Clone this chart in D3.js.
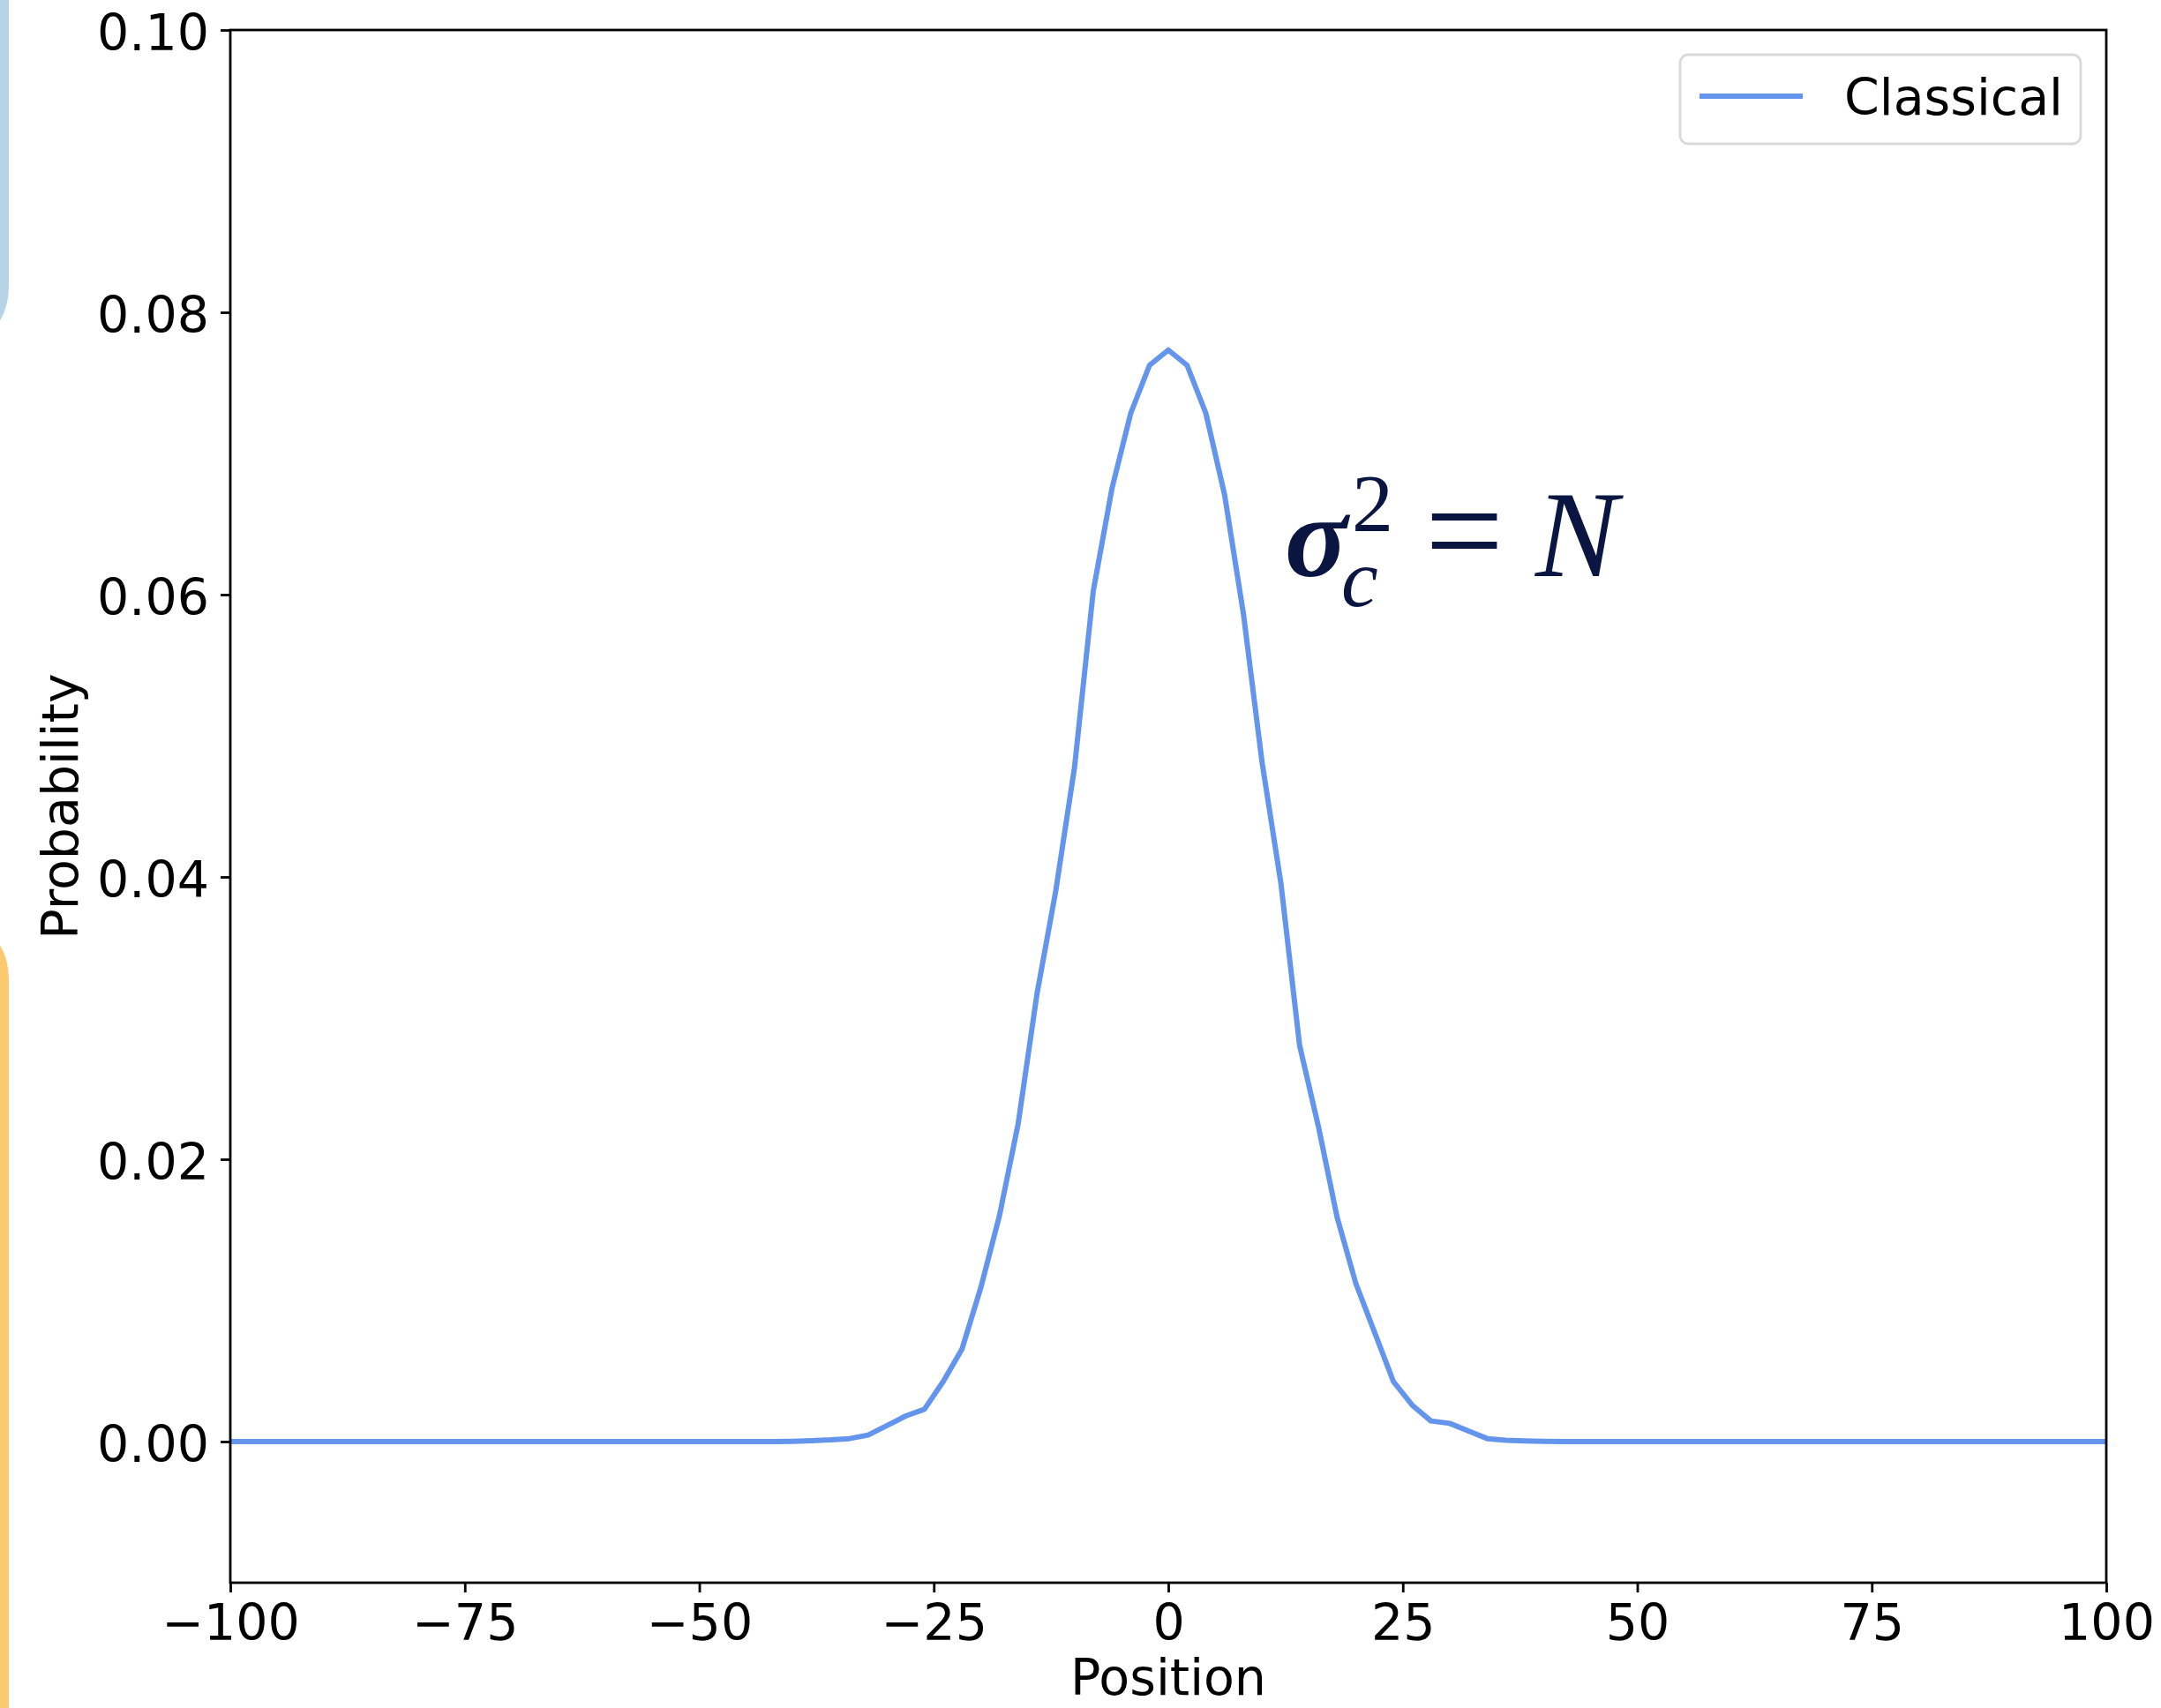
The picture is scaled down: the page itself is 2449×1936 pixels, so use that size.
<!DOCTYPE html>
<html>
<head>
<meta charset="utf-8">
<script src="https://cdn.jsdelivr.net/npm/d3@7"></script>
<style>
  body { margin: 0; background: #fff; }
  svg { display: block; }
</style>
</head>
<body>
<svg id="chart" width="2449" height="1936"></svg>
<script>
// positions of the walk (every 2 steps)
var positions = [
  -100, -98, -96, -94, -92, -90, -88, -86, -84, -82,
  -80, -78, -76, -74, -72, -70, -68, -66, -64, -62,
  -60, -58, -56, -54, -52, -50, -48, -46, -44, -42,
  -40, -38, -36, -34, -32, -30, -28, -26, -24, -22,
  -20, -18, -16, -14, -12, -10, -8, -6, -4, -2,
  0, 2, 4, 6, 8, 10, 12, 14, 16, 18,
  20, 22, 24, 26, 28, 30, 32, 34, 36, 38,
  40, 42, 44, 46, 48, 50, 52, 54, 56, 58,
  60, 62, 64, 66, 68, 70, 72, 74, 76, 78,
  80, 82, 84, 86, 88, 90, 92, 94, 96, 98,
  100
];

// classical probability
var classical = [
  0, 0, 0, 0, 0, 0, 0, 0, 0, 0,
  0, 0, 0, 0, 0, 0, 0, 0, 0, 0,
  0, 0, 0, 0, 0, 0, 0, 0, 0, 0,
  0.00002, 0.00006, 0.00012, 0.00021, 0.00046, 0.00113, 0.00181, 0.00229, 0.00425, 0.00654,
  0.01088, 0.01600, 0.02254, 0.03171, 0.03900, 0.04775, 0.06025, 0.06754, 0.07286, 0.07625,
  0.07733, 0.07625, 0.07286, 0.06708, 0.05869, 0.04810, 0.03958, 0.02806, 0.02233, 0.01588,
  0.01119, 0.00773, 0.00425, 0.00258, 0.00146, 0.00129, 0.00075, 0.00021, 0.00010, 0.00005,
  0.00002, 0, 0, 0, 0, 0, 0, 0, 0, 0,
  0, 0, 0, 0, 0, 0, 0, 0, 0, 0,
  0, 0, 0, 0, 0, 0, 0, 0, 0, 0,
  0
];

var xTicks = [-100, -75, -50, -25, 0, 25, 50, 75, 100];
var yTicks = [0, 0.02, 0.04, 0.06, 0.08, 0.10];
var seriesName = "Classical";

var margin = {top: 34, right: 62, bottom: 142, left: 261};
const width = 2449 - margin.left - margin.right;
const height = 1936 - margin.top - margin.bottom;
const font = "'DejaVu Sans', sans-serif";
const lineColor = "#6495ed";

var x = d3.scaleLinear()
  .range([0, width])
  .domain([-100, 100]);

var y = d3.scaleLinear()
  .range([height, 0])
  .domain([-0.01, 0.10]);

const svg = d3.select("#chart");

// bits of neighbouring panels cut at the left edge
svg.append("rect")
  .attr("x", -60).attr("y", -100)
  .attr("width", 70).attr("height", 480)
  .attr("rx", 55)
  .style("fill", "#b7d4e6");
svg.append("rect")
  .attr("x", -60).attr("y", 1055)
  .attr("width", 70).attr("height", 1000)
  .attr("rx", 55)
  .style("fill", "#fbc970");

var graph = svg.append("g")
  .attr("transform", "translate(" + margin.left + "," + margin.top + ")");

graph.append("clipPath")
  .attr("id", "clip")
  .append("rect")
  .attr("width", width)
  .attr("height", height);

var valueLine = d3.line()
  .x(function(d, i) { return x(positions[i]); })
  .y(function(d) { return y(d); });

graph.append("path")
  .datum(classical)
  .attr("clip-path", "url(#clip)")
  .attr("d", valueLine)
  .style("fill", "none")
  .style("stroke", lineColor)
  .style("stroke-width", 6)
  .style("stroke-linejoin", "round");

// add the x Axis
var xAxis = graph.append("g")
  .attr("transform", "translate(0," + height + ")")
  .call(d3.axisBottom(x).tickValues(xTicks).tickSize(11).tickPadding(14).tickFormat(d3.format("d")));

// add the y Axis
var yAxis = graph.append("g")
  .call(d3.axisLeft(y).tickValues(yTicks).tickSize(11).tickPadding(13).tickFormat(d3.format(".2f")));

[xAxis, yAxis].forEach(function(ax) {
  ax.select(".domain").remove();
  ax.selectAll("line").style("stroke", "#000").style("stroke-width", 2.8);
  ax.selectAll("text")
    .style("font-family", font)
    .style("font-size", "57px")
    .style("fill", "#000");
});
yAxis.selectAll("text").attr("dy", "0.40em");

// frame
graph.append("rect")
  .attr("width", width)
  .attr("height", height)
  .style("fill", "none")
  .style("stroke", "#000")
  .style("stroke-width", 2.8);

// axis labels
svg.append("text")
  .attr("x", margin.left + width / 2)
  .attr("y", 1921)
  .attr("text-anchor", "middle")
  .style("font-family", font)
  .style("font-size", "57px")
  .text("Position");

svg.append("text")
  .attr("transform", "translate(88," + (margin.top + height / 2) + ") rotate(-90)")
  .attr("text-anchor", "middle")
  .style("font-family", font)
  .style("font-size", "57px")
  .text("Probability");

// legend
var legend = svg.append("g");
legend.append("rect")
  .attr("x", 1904).attr("y", 62)
  .attr("width", 454).attr("height", 101)
  .attr("rx", 9)
  .style("fill", "#fff")
  .style("stroke", "#d9d9d9")
  .style("stroke-width", 2.8);
legend.append("line")
  .attr("x1", 1926).attr("x2", 2043)
  .attr("y1", 109).attr("y2", 109)
  .style("stroke", lineColor)
  .style("stroke-width", 6);
legend.append("text")
  .attr("x", 2090).attr("y", 130)
  .style("font-family", font)
  .style("font-size", "57px")
  .text(seriesName);

// annotation sigma_c^2 = N, anchored in data coords
var ax0 = margin.left + x(12.8);
var ay0 = margin.top + y(0.0613);
var note = svg.append("text")
  .attr("transform", "translate(" + ax0 + "," + ay0 + ")")
  .style("font-family", "'Liberation Serif', 'DejaVu Serif', serif")
  .style("fill", "#0a1641");
note.append("tspan")
  .attr("x", -4).attr("y", 0)
  .style("font-size", "132px")
  .style("font-style", "italic")
  .style("font-weight", "bold")
  .text("σ");
note.append("tspan")
  .attr("x", 60).attr("y", 34)
  .style("font-size", "94px")
  .style("font-style", "italic")
  .text("c");
note.append("tspan")
  .attr("x", 72).attr("y", -51)
  .style("font-size", "94px")
  .text("2");
note.append("tspan")
  .attr("x", 155).attr("y", 2)
  .style("font-size", "158px")
  .text("=");
note.append("tspan")
  .attr("x", 280).attr("y", 0)
  .style("font-size", "140px")
  .style("font-style", "italic")
  .text("N");
</script>
</body>
</html>
